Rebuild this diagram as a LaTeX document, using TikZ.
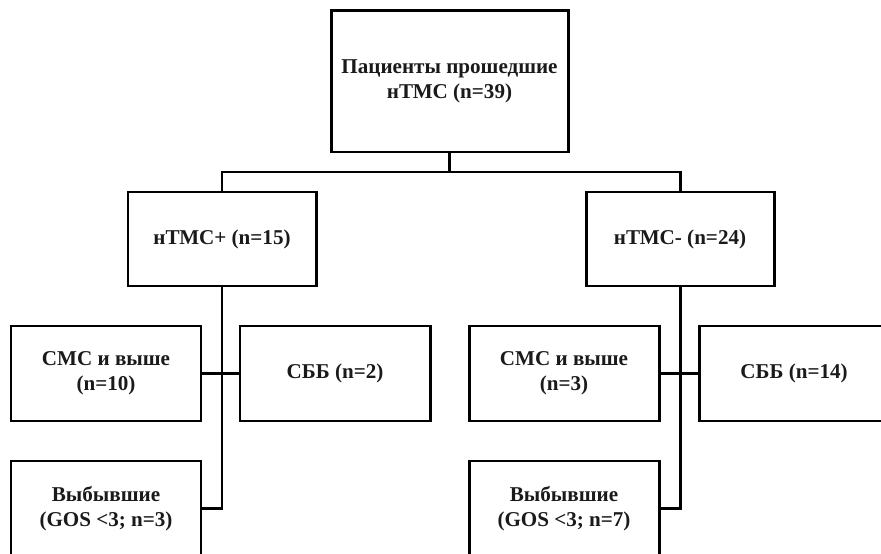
\documentclass[tikz,border=0pt]{standalone}
\usepackage{fontspec}
\setmainfont{Liberation Serif}
\usetikzlibrary{positioning}
\definecolor{c1}{HTML}{000000}
\definecolor{c2}{HTML}{1A1A1A}

\begin{document}
\begin{tikzpicture}[
    every node/.style={font=\bfseries\fontsize{12}{14.2}\selectfont, text=c2},
    block/.style={draw=c1, line width=1.7pt, align=center, inner sep=0pt},
    wide/.style={block, minimum width=3.80cm, minimum height=1.90cm},
    link/.style={draw=c1, line width=1.7pt},
]

\useasboundingbox (0,0) rectangle (17.62,11.06);
\clip (0,0) rectangle (17.62,11.06);

% ---------------------------------------------------------------- top
\node[block, minimum width=4.74cm, minimum height=2.82cm] (all) at (8.99, 9.43)
    {Пациенты прошедшие\\нТМС (n=39)};
\node[block, minimum width=3.76cm, minimum height=1.88cm] (plus) at (4.44, 6.28)
    {нТМС+ (n=15)};
\node[block, minimum width=3.76cm, minimum height=1.88cm] (minus) at (13.60, 6.28)
    {нТМС- (n=24)};

\coordinate (fork) at (8.99, 7.62);
\draw[link] (all.south) -- (fork);
\draw[link] (plus.north) |- (fork) -| (minus.north);

% ---------------------------------------------------------------- outcomes
\node[wide] (smcL) at (2.12, 3.59)  {СМС и выше\\(n=10)};
\node[wide] (sbbL) at (6.70, 3.59)  {СББ (n=2)};
\node[wide] (outL) at (2.12, 0.89)  {Выбывшие\\(GOS <3; n=3)};

\node[wide] (smcR) at (11.28, 3.59) {СМС и выше\\(n=3)};
\node[wide] (sbbR) at (15.88, 3.59) {СББ (n=14)};
\node[wide] (outR) at (11.28, 0.89) {Выбывшие\\(GOS <3; n=7)};

\draw[link] (plus.south) |- (outL.east);
\draw[link] (smcL.east) -- (sbbL.west);
\draw[link] (minus.south) |- (outR.east);
\draw[link] (smcR.east) -- (sbbR.west);

\end{tikzpicture}
\end{document}
